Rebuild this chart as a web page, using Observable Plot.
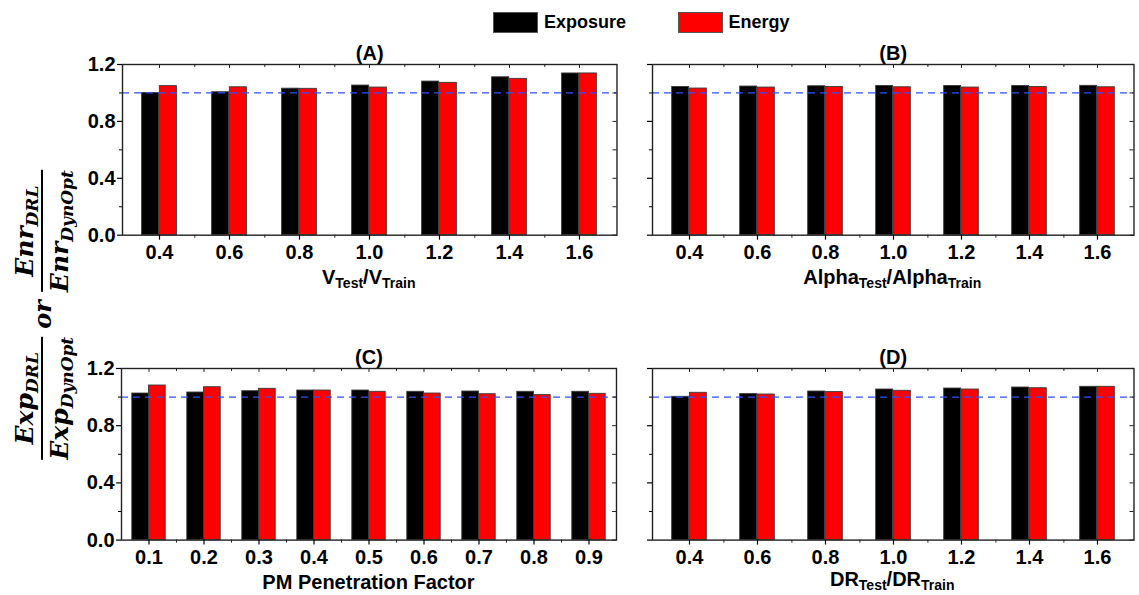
<!DOCTYPE html>
<html>
<head>
<meta charset="utf-8">
<script src="https://cdn.jsdelivr.net/npm/d3@7"></script>
<script src="https://cdn.jsdelivr.net/npm/@observablehq/plot@0.6"></script>
<style>
  html, body { margin: 0; padding: 0; background: #fff; }
  #root { position: relative; width: 1139px; height: 595px; overflow: hidden; font-family: "Liberation Sans", Arial, sans-serif; }
  .abs { position: absolute; }
  .xlab { position: absolute; font: bold 20px/20px "Liberation Sans", Arial, sans-serif; text-align: center; white-space: nowrap; transform: translateX(-50%); }
  .xlab sub { font-size: 14px; vertical-align: -4px; line-height: 0; }
  .leg { position: absolute; font: bold 18px/18px "Liberation Sans", Arial, sans-serif; }
  .sw { position: absolute; width: 45px; height: 21px; box-sizing: border-box; border: 1px solid #555; }
  #ylab { position: absolute; left: 42px; top: 315px; transform: translate(-50%, -50%) rotate(-90deg); display: flex; align-items: center; white-space: nowrap;
          font-family: "DejaVu Serif", serif; font-weight: bold; font-style: italic; font-size: 25px; }
  .frac { display: inline-flex; flex-direction: column; align-items: center; }
  .frac .line { align-self: stretch; border-top: 2px solid #000; margin: 2px 0; }
  .frac sub { font-size: 17px; vertical-align: -5px; line-height: 0; }
  .or { margin: 0 8px; font-size: 24px; }
</style>
</head>
<body>
<div id="root"></div>
<script>
// ---- data ----
const series = ["Exposure", "Energy"];
const seriesColors = ["#000000", "#ff0000"];

const catsA = ["0.4", "0.6", "0.8", "1.0", "1.2", "1.4", "1.6"];
const expA = [1.000, 1.005, 1.030, 1.052, 1.080, 1.110, 1.137];
const enrA = [1.048, 1.040, 1.029, 1.038, 1.071, 1.099, 1.137];

const catsB = ["0.4", "0.6", "0.8", "1.0", "1.2", "1.4", "1.6"];
const expB = [1.042, 1.045, 1.047, 1.049, 1.049, 1.049, 1.050];
const enrB = [1.031, 1.038, 1.042, 1.040, 1.038, 1.042, 1.040];

const catsC = ["0.1", "0.2", "0.3", "0.4", "0.5", "0.6", "0.7", "0.8", "0.9"];
const expC = [1.025, 1.032, 1.041, 1.046, 1.046, 1.037, 1.039, 1.037, 1.037];
const enrC = [1.081, 1.069, 1.058, 1.046, 1.037, 1.025, 1.020, 1.014, 1.023];

const catsD = ["0.4", "0.6", "0.8", "1.0", "1.2", "1.4", "1.6"];
const expD = [1.002, 1.021, 1.039, 1.053, 1.060, 1.067, 1.072];
const enrD = [1.030, 1.018, 1.035, 1.044, 1.053, 1.062, 1.072];

const yTicks = [0, 0.4, 0.8, 1.2];
const yMinor = [0.2, 0.6, 1.0];
const reference = [1.0];

const root = document.getElementById("root");

function panel({cats, exp, enr, title, left, right, top, bottom, barW, yLabels, xLabel}) {
  const mL = 50, mR = 8, mT = 32, mB = 32;
  const pw = right - left, ph = bottom - top;
  const step = pw / cats.length;
  const rowsE = cats.map((c, i) => ({cat: c, value: exp[i]}));
  const rowsN = cats.map((c, i) => ({cat: c, value: enr[i]}));
  const fmt = yLabels ? d3.format(".1f") : () => "";
  const chart = Plot.plot({
    width: pw + mL + mR, height: ph + mT + mB,
    marginLeft: mL, marginRight: mR, marginTop: mT, marginBottom: mB,
    style: {fontFamily: "'Liberation Sans', Arial, sans-serif", fontWeight: "bold", fontSize: "20px", color: "#000", background: "transparent", overflow: "visible"},
    x: {type: "band", domain: cats, padding: 0, label: null},
    y: {domain: [0, 1.2], label: null},
    marks: [
      Plot.barY(rowsE, {x: "cat", y: "value", fill: seriesColors[0], stroke: "#3a3a3a", strokeWidth: 0.9, insetLeft: step / 2 - barW, insetRight: step / 2}),
      Plot.barY(rowsN, {x: "cat", y: "value", fill: seriesColors[1], stroke: "#3a3a3a", strokeWidth: 0.9, insetLeft: step / 2, insetRight: step / 2 - barW}),
      Plot.ruleY(reference, {stroke: "#2f50ff", strokeWidth: 1.3, strokeDasharray: "7,5"}),
      Plot.frame({stroke: "#222", strokeWidth: 1.4}),
      Plot.axisY({ticks: yTicks, tickFormat: fmt, tickSize: 5, tickPadding: 2, strokeWidth: 1.2, fontSize: 20}),
      Plot.axisY({ticks: yMinor, tickFormat: () => "", tickSize: 3, strokeWidth: 1}),
      Plot.tickY(yTicks.concat(yMinor), {y: d => d, insetLeft: pw - 4, stroke: "#222", strokeWidth: 1}),
      Plot.axisX({tickSize: 5, tickPadding: 5, strokeWidth: 1.2, fontSize: 20}),
      Plot.tickX(cats.slice(0, -1), {x: d => d, dx: step / 2, insetTop: ph, insetBottom: -3, stroke: "#222", strokeWidth: 1}),
      Plot.tickX(cats, {x: d => d, insetBottom: ph - 4, stroke: "#222", strokeWidth: 1}),
      Plot.tickX(cats.slice(0, -1), {x: d => d, dx: step / 2, insetBottom: ph - 3, stroke: "#222", strokeWidth: 1}),
      Plot.text([title], {frameAnchor: "top", dy: -4, lineAnchor: "bottom", fontSize: 20, fontWeight: "bold", fill: "#000"})
    ]
  });
  chart.classList.add("abs");
  chart.style.left = (left - mL) + "px";
  chart.style.top = (top - mT) + "px";
  root.appendChild(chart);
  const xl = document.createElement("div");
  xl.className = "xlab";
  xl.innerHTML = xLabel.html;
  xl.style.left = ((left + right) / 2) + "px";
  xl.style.top = xLabel.top + "px";
  root.appendChild(xl);
}

panel({cats: catsA, exp: expA, enr: enrA, title: "(A)", left: 121.5, right: 616, top: 64.3, bottom: 235, barW: 17.7, yLabels: true,
       xLabel: {html: "V<sub>Test</sub>/V<sub>Train</sub>", top: 266.5}});
panel({cats: catsB, exp: expB, enr: enrB, title: "(B)", left: 651.5, right: 1133, top: 64.3, bottom: 235, barW: 17.7, yLabels: false,
       xLabel: {html: "Alpha<sub>Test</sub>/Alpha<sub>Train</sub>", top: 266.5}});
panel({cats: catsC, exp: expC, enr: enrC, title: "(C)", left: 121, right: 616, top: 367.7, bottom: 539.3, barW: 16.7, yLabels: true,
       xLabel: {html: "PM Penetration Factor", top: 572}});
panel({cats: catsD, exp: expD, enr: enrD, title: "(D)", left: 651.5, right: 1133, top: 367.7, bottom: 539.3, barW: 17.7, yLabels: false,
       xLabel: {html: "DR<sub>Test</sub>/DR<sub>Train</sub>", top: 569}});

// legend
const legendX = [493, 677.5];
series.forEach((s, i) => {
  const sw = document.createElement("div");
  sw.className = "sw";
  sw.style.left = legendX[i] + "px";
  sw.style.top = "12px";
  sw.style.background = seriesColors[i];
  root.appendChild(sw);
  const t = document.createElement("div");
  t.className = "leg";
  t.textContent = s;
  t.style.left = (legendX[i] + 51) + "px";
  t.style.top = "13px";
  root.appendChild(t);
});

// y-axis label
const yl = document.createElement("div");
yl.id = "ylab";
yl.innerHTML =
  '<span class="frac"><span>Exp<sub>DRL</sub></span><span class="line"></span><span>Exp<sub>DynOpt</sub></span></span>' +
  '<span class="or">or</span>' +
  '<span class="frac"><span>Enr<sub>DRL</sub></span><span class="line"></span><span>Enr<sub>DynOpt</sub></span></span>';
root.appendChild(yl);
</script>
</body>
</html>
